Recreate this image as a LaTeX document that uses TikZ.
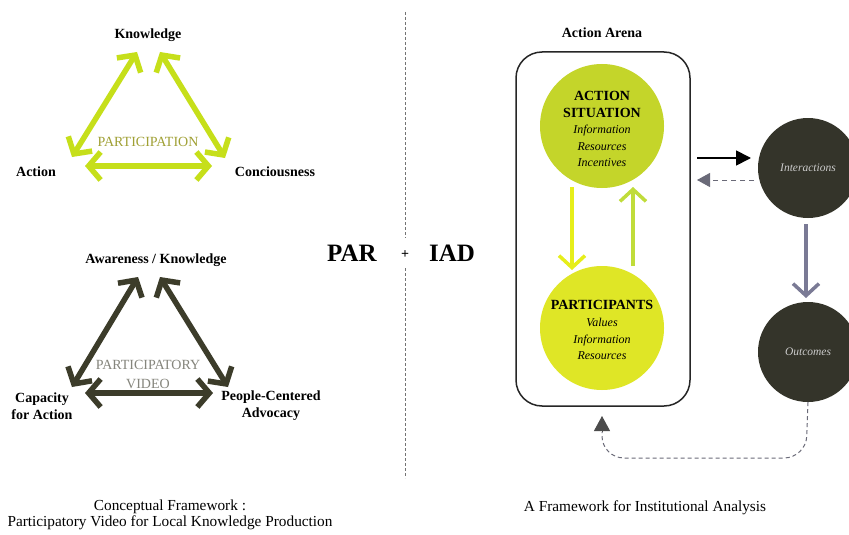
\documentclass[tikz,border=0pt]{standalone}
\usepackage{fontspec}
\setmainfont{Liberation Serif}
\usetikzlibrary{arrows.meta}
\definecolor{lime}{HTML}{C6DF1A}
\definecolor{darkolive}{HTML}{3C3C2A}
\definecolor{partcol}{HTML}{A0A034}
\definecolor{pvcol}{HTML}{85857C}
\definecolor{ascol}{HTML}{C4D52A}
\definecolor{pcol}{HTML}{DFE626}
\definecolor{darkcirc}{HTML}{34342A}
\definecolor{yelarrow}{HTML}{E6EE1A}
\definecolor{grnarrow}{HTML}{C0DC3A}
\definecolor{bluegray}{HTML}{7A7A95}
\definecolor{dashgray}{HTML}{6A6A78}
\tikzset{
  lbl/.style={font=\bfseries\fontsize{14}{17}\selectfont, align=center, inner sep=0pt},
  captext/.style={font=\fontsize{15.3}{16}\selectfont, align=center, inner sep=0pt},
  bigarr/.style={line width=5.5pt, {Straight Barb[length=12pt,width=28pt]}-{Straight Barb[length=12pt,width=28pt]}},
  limearr/.style={bigarr, draw=lime},
  darkarr/.style={bigarr, draw=darkolive},
  vertarr/.style={line width=3.5pt, -{Straight Barb[length=12pt,width=26pt]}},
  bigcirc/.style={circle, minimum size=124pt, inner sep=0pt},
  boldin/.style={font=\bfseries\fontsize{14}{17}\selectfont, align=center, inner sep=0pt},
  italin/.style={font=\itshape\fontsize{12}{16.5}\selectfont, align=center, inner sep=0pt},
  darkc/.style={circle, fill=darkcirc, minimum size=100pt, inner sep=0pt, text=black!20, font=\itshape\fontsize{11.5}{13}\selectfont},
  divider/.style={densely dashed, draw=black!55, line width=0.6pt}
}
\begin{document}
\begin{tikzpicture}[x=1pt,y=-1pt]
\useasboundingbox (0,0) rectangle (849,535);
\fill[white] (0,0) rectangle (849,535);

% ---------- top triangle ----------
\node[lbl] (know) at (148,35) {Knowledge};
\node[lbl] (act) at (36,172) {Action};
\node[lbl] (conc) at (275,172) {Conciousness};
\node[font=\fontsize{14}{15}\selectfont, text=partcol, inner sep=0pt] (partic) at (148,142) {PARTICIPATION};
\coordinate (t1a) at (72,157);
\coordinate (t1b) at (137,52);
\coordinate (t2a) at (160,52);
\coordinate (t2b) at (225,158);
\coordinate (t3a) at (85,166);
\coordinate (t3b) at (212,166);
\draw[limearr] (t1a) -- (t1b);
\draw[limearr] (t2a) -- (t2b);
\draw[limearr] (t3a) -- (t3b);

% ---------- bottom triangle ----------
\node[lbl] (aware) at (156,260) {Awareness / Knowledge};
\node[lbl] (capac) at (42,406) {Capacity\\for Action};
\node[lbl] (people) at (271,406) {People-Centered\\Advocacy};
\node[font=\fontsize{14}{19}\selectfont, text=pvcol, align=center, inner sep=0pt] (pv) at (148,374) {PARTICIPATORY\\VIDEO};
\coordinate (b1a) at (72,387);
\coordinate (b1b) at (138,277);
\coordinate (b2a) at (160,277);
\coordinate (b2b) at (228,387);
\coordinate (b3a) at (85,393);
\coordinate (b3b) at (213,393);
\draw[darkarr] (b1a) -- (b1b);
\draw[darkarr] (b2a) -- (b2b);
\draw[darkarr] (b3a) -- (b3b);

% ---------- middle ----------
\node[font=\bfseries\fontsize{25}{28}\selectfont, inner sep=0pt] (par) at (352,253) {PAR};
\node[font=\bfseries\fontsize{14}{16}\selectfont, inner sep=0pt] (plus) at (405,255) {+};
\node[font=\bfseries\fontsize{25}{28}\selectfont, inner sep=0pt] (iad) at (452,253) {IAD};
\coordinate (d1) at (405,12);
\coordinate (d2) at (405,238);
\coordinate (d3) at (405,268);
\coordinate (d4) at (405,478);
\draw[divider] (d1) -- (d2);
\draw[divider] (d3) -- (d4);

% ---------- captions ----------
\node[captext] (capl) at (170,515) {Conceptual Framework :\\Participatory Video for Local Knowledge Production};
\node[captext] (capr) at (645,508) {A Framework for Institutional Analysis};

% ---------- IAD ----------
\node[lbl] (arenat) at (602,33) {Action Arena};
\node[draw=black!85, line width=1.5pt, rounded corners=26pt, minimum width=174pt, minimum height=354pt, inner sep=0pt] (arena) at (603,229) {};
\node[bigcirc, fill=ascol] (as) at (602,126) {};
\node[boldin] (ast) at (602,104) {ACTION\\SITUATION};
\node[italin] (asi) at (602,146) {Information\\Resources\\Incentives};
\node[bigcirc, fill=pcol] (pp) at (602,328) {};
\node[boldin] (ppt) at (602,305) {PARTICIPANTS};
\node[italin] (ppi) at (602,339) {Values\\Information\\Resources};
\coordinate (ya) at (572,187);
\coordinate (yb) at (572,270);
\coordinate (ga) at (633,266);
\coordinate (gb) at (633,187);
\draw[vertarr, draw=yelarrow] (ya) -- (yb);
\draw[vertarr, draw=grnarrow] (ga) -- (gb);

\node[darkc] (inter) at (808,168) {Interactions};
\node[darkc] (outc) at (808,352) {Outcomes};

\coordinate (ba) at (697,158);
\coordinate (bb) at (751,158);
\draw[line width=1.8pt, -{Triangle[length=15pt,width=15pt]}] (ba) -- (bb);
\coordinate (ga2) at (754,180);
\coordinate (gb2) at (697,180);
\draw[line width=1pt, draw=dashgray, dash pattern=on 5pt off 4pt, -{Triangle[length=13pt,width=14pt,fill=dashgray]}] (ga2) -- (gb2);

\coordinate (va) at (806,224);
\coordinate (vb) at (806,298);
\draw[vertarr, draw=bluegray] (va) -- (vb);

\coordinate (r1) at (806,458);
\coordinate (r2) at (602,458);
\coordinate (r3) at (602,432);
\coordinate (r4) at (602,416);
\draw[line width=1pt, draw=dashgray, dash pattern=on 4pt off 3pt, rounded corners=22pt] (outc.south) -- (r1) -- (r2) -- (r3);
\draw[line width=1pt, draw=black!70, -{Triangle[length=15pt,width=16pt]}] (r3) -- (r4);
\end{tikzpicture}
\end{document}
